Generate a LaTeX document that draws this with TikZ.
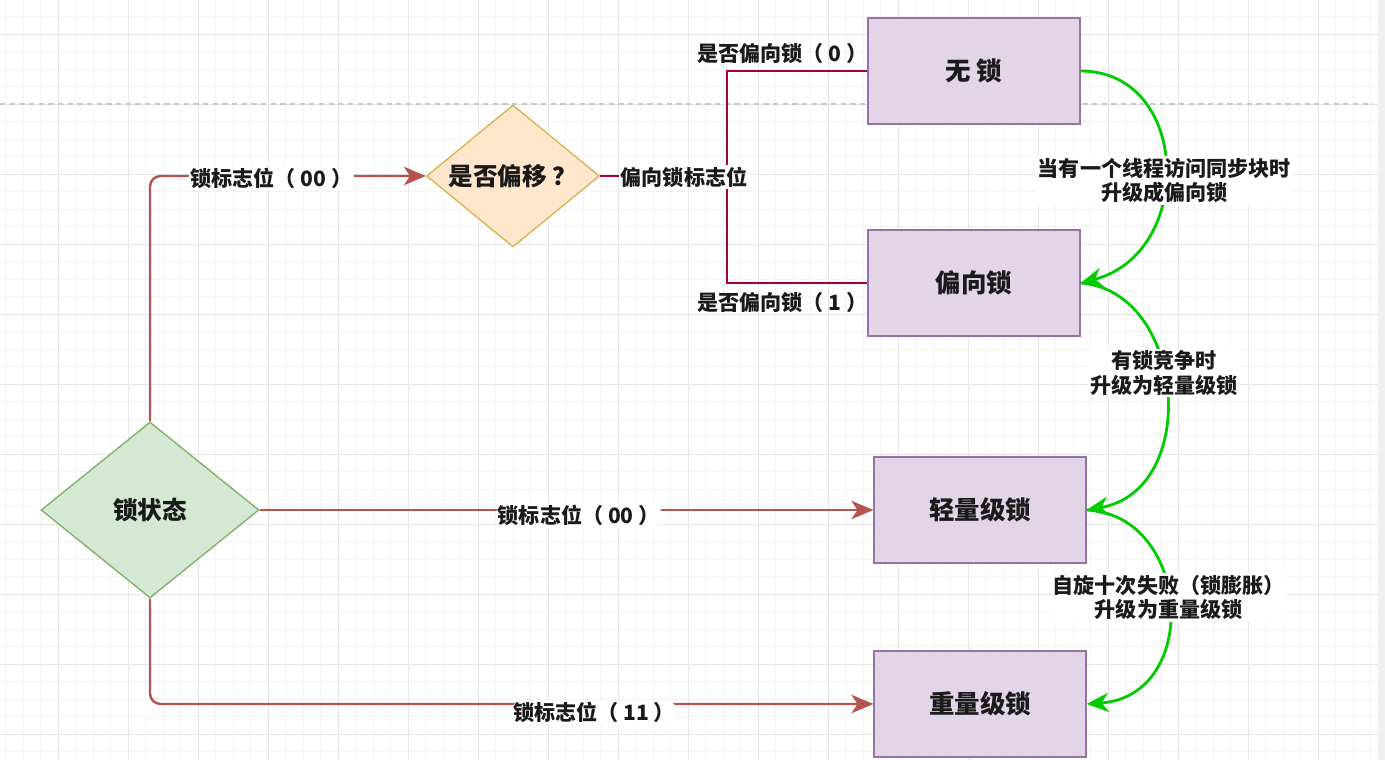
\documentclass[tikz,border=0pt]{standalone}
\usepackage{fontspec}
\newfontfamily\cjk{Noto Sans CJK SC}
\usetikzlibrary{arrows.meta, positioning, shapes.geometric, calc}
\definecolor{LKRED}{HTML}{B85450}
\definecolor{LKCRIMSON}{HTML}{A50040}
\definecolor{LKGREEN}{HTML}{00CC00}
\definecolor{BOXFILL}{HTML}{E1D5E7}
\definecolor{BOXLINE}{HTML}{9673A6}
\definecolor{QFILL}{HTML}{FFE6CC}
\definecolor{QLINE}{HTML}{D6B656}
\definecolor{SFILL}{HTML}{D5E8D4}
\definecolor{SLINE}{HTML}{82B366}
\definecolor{GRIDMINOR}{HTML}{F3F3F3}
\definecolor{GRIDMAJOR}{HTML}{E6E6E6}
\definecolor{INK}{HTML}{1A1A1A}

\begin{document}
\begin{tikzpicture}[x=0.02cm, y=-0.02cm,
          lockbox/.style={rectangle, draw=BOXLINE, fill=BOXFILL, line width=0.8pt, text=INK,
                          minimum width=4.24cm, minimum height=2.12cm,
                          font=\cjk\bfseries\fontsize{14.5}{16}\selectfont},
          decision/.style={diamond, inner sep=0pt, line width=0.8pt, text=INK,
                           font=\cjk\bfseries\fontsize{14}{16}\selectfont},
          lbl/.style={fill=white, inner sep=1pt, text=INK, font=\cjk\bfseries\fontsize{12}{14}\selectfont},
          note/.style={lbl, align=center},
          flag/.style={-{Stealth[length=12.5pt, width=10.5pt, inset=3.5pt]}, LKRED, line width=1.4pt,
                       rounded corners=6pt},
          bias/.style={LKCRIMSON, line width=1.5pt},
          upgrade/.style={-{Stealth[length=12.5pt, width=11pt, inset=4pt]}, LKGREEN, line width=1.6pt}
        ]
          \useasboundingbox (0,0) rectangle (1385,760);
          \fill[white] (0,0) rectangle (1385,760);
          \foreach \gx in {5.5,23,...,1378} \draw[GRIDMINOR, line width=0.5pt] (\gx,0) -- (\gx,760);
          \foreach \gy in {16.5,34,...,760} \draw[GRIDMINOR, line width=0.5pt] (0,\gy) -- (1378,\gy);
          \foreach \gx in {58,128,...,1378} \draw[GRIDMAJOR, line width=0.5pt] (\gx,0) -- (\gx,760);
          \foreach \gy in {34,104,...,760} \draw[GRIDMAJOR, line width=0.5pt] (0,\gy) -- (1378,\gy);
          \fill[gray!12] (1378,0) rectangle (1385,760);
          \draw[gray!45, line width=0.6pt, dash pattern=on 3pt off 2.5pt] (0,104) -- (1373,104);

          \node[lockbox] (nolock) at (974,71) {无 锁};
          \node[lockbox] (biasedlock) at (974,283) {偏向锁};
          \node[lockbox] (light) at (980,510) {轻量级锁};
          \node[lockbox] (heavy) at (980,704) {重量级锁};
          \node[decision, fill=QFILL, draw=QLINE, shape aspect=1.22,
                minimum width=3.46cm, minimum height=2.84cm]
            (biased) at (513,176) {是否偏移 ？};
          \node[decision, fill=SFILL, draw=SLINE, shape aspect=1.24,
                minimum width=4.36cm, minimum height=3.52cm]
            (lockstate) at (150,510) {锁状态};
          \coordinate (fork) at (727,176);

          \draw[flag] (lockstate.north) |- node[lbl, pos=0.72, yshift=-1.5pt] {锁标志位（ 00 ）} (biased.west);
          \draw[bias] (fork) |- (biasedlock.west);
          \draw[bias] (biased.east) -- (fork) |- (nolock.west);
          \node[lbl] (forklbl) at (684,177) {偏向锁标志位};
          \node[lbl, fill=none, anchor=east] (tag0) at ($(nolock.west)+(2,-18)$) {是否偏向锁（ 0 ）};
          \node[lbl, fill=none, anchor=east] (tag1) at ($(biasedlock.west)+(2,19)$) {是否偏向锁（ 1 ）};
          \draw[flag] (lockstate.east) -- node[lbl, pos=0.52, yshift=-3pt] {锁标志位（ 00 ）} (light.west);
          \draw[flag] (lockstate.south) |- node[lbl, pos=0.807, yshift=-5pt] {锁标志位（ 11 ）} (heavy.west);

          \draw[upgrade] (nolock.east) .. controls +(110,0) and +(115,-30) ..
            node[note, pos=0.55] {当有一个线程访问同步块时\\升级成偏向锁} (biasedlock.east);
          \draw[upgrade] (biasedlock.east) .. controls +(105,8) and +(115,-20) ..
            node[note, pos=0.44] {有锁竞争时\\升级为轻量级锁} (light.east);
          \draw[upgrade] (light.east) .. controls +(105,5) and +(115,-8) ..
            node[note, pos=0.47] {自旋十次失败（锁膨胀）\\升级为重量级锁} (heavy.east);
        \end{tikzpicture}
\end{document}
